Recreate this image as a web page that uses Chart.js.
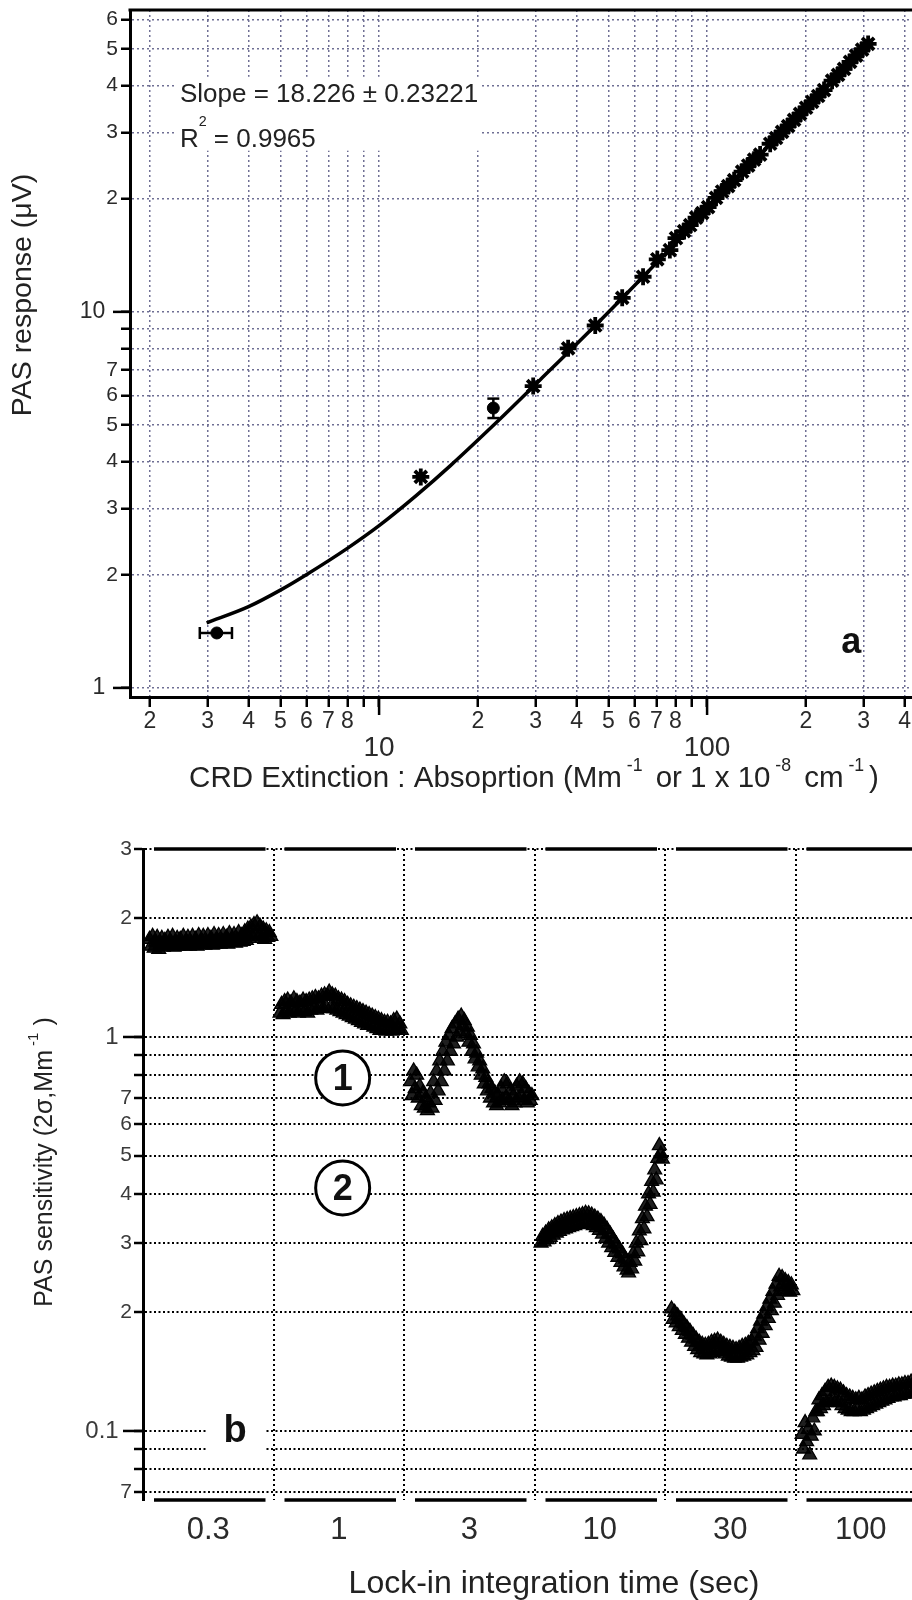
<!DOCTYPE html>
<html>
<head>
<meta charset="utf-8">
<script src="https://cdn.jsdelivr.net/npm/chart.js@4.4.1/dist/chart.umd.min.js"></script>
<style>
  html, body { margin: 0; padding: 0; background: #fff; overflow: hidden; }
  .panel { position: absolute; left: 0; }
  #panelA { top: 0; }
  #panelB { top: 790px; }
  canvas { display: block; }
</style>
</head>
<body>
<div class="panel" id="panelA"><canvas id="chartA" width="940" height="805"></canvas></div>
<div class="panel" id="panelB"><canvas id="chartB" width="940" height="810"></canvas></div>
<script>
const FONT = "'Liberation Sans', Arial, sans-serif";

// ---- (a) PAS response against CRD extinction ----
const extTicks = [2, 3, 4, 5, 6, 7, 8, 9, 10, 20, 30, 40, 50, 60, 70, 80, 90, 100, 200, 300, 400];
const extTickLabels = ['2', '3', '4', '5', '6', '7', '8', '', ['', '10'], '2', '3', '4', '5', '6', '7', '8', '', ['', '100'], '2', '3', '4'];
const respTicks = [1, 2, 3, 4, 5, 6, 7, 8, 9, 10, 20, 30, 40, 50, 60];
const respTickLabels = ['1  ', '2', '3', '4', '5', '6', '7', '', '', '10  ', '2', '3', '4', '5', '6'];

// calibration points
const calExt = [13.4, 29.5, 37.7, 45.6, 55.1, 63.8, 70.5, 77.0,
  80.4, 85.1, 88.8, 92.6, 96.6, 100.7, 106.5, 111.1, 115.9, 120.9,
  127.9, 133.4, 139.1, 145.1, 155.7, 162.3, 169.3, 176.6, 184.2, 192.1,
  200.4, 209.0, 218.0, 227.3, 240.5, 250.8, 261.6, 272.9, 284.6, 296.9, 309.7];
const calResp = [3.64, 6.35, 8.0, 9.2, 10.9, 12.4, 13.8, 14.6,
  15.7, 16.4, 17.0, 17.8, 18.3, 19.0, 20.1, 20.9, 21.6, 22.4,
  23.6, 24.5, 25.4, 26.2, 28.0, 29.0, 30.1, 31.2, 32.4, 33.6,
  34.9, 36.2, 37.5, 38.9, 41.2, 42.7, 44.3, 46.2, 48.0, 49.8, 51.6];

// points carrying error bars
const barExt = [3.2, 22.3];
const barResp = [1.40, 5.55];
const barExtErr = [0.36, 0];
const barRespErr = [0, 0.33];

// linear fit, curved on log axes
const fitExt = [2.98, 4.0, 5.0, 6.0, 8.0, 10, 13, 16.5, 22.9, 31, 45.6, 63.8, 100, 150, 200, 250, 318];
const fitResp = [1.49, 1.645, 1.82, 2.0, 2.35, 2.7, 3.25, 3.9, 5.1, 6.6, 9.2, 12.4, 18.6, 27.0, 34.9, 42.7, 52.9];
const fitStats = 'Slope = 18.226 \u00b1 0.23221';
const fitR2 = '0.9965';

// ---- (b) PAS sensitivity per lock-in integration time ----
const intTimes = ['0.3', '1', '3', '10', '30', '100'];
const sens03 = [1.77, 1.70, 1.80, 1.68, 1.74, 1.79, 1.67, 1.72, 1.78, 1.69, 1.76, 1.70, 1.79, 1.71, 1.74, 1.80, 1.69, 1.73, 1.78, 1.70,
  1.77, 1.71, 1.80, 1.70, 1.75, 1.79, 1.70, 1.73, 1.80, 1.71, 1.77, 1.70, 1.81, 1.72, 1.75, 1.80, 1.71, 1.74, 1.81, 1.72,
  1.78, 1.71, 1.82, 1.72, 1.76, 1.81, 1.72, 1.75, 1.82, 1.73, 1.79, 1.72, 1.83, 1.74, 1.77, 1.82, 1.73, 1.76, 1.84, 1.74,
  1.81, 1.75, 1.85, 1.76, 1.88, 1.78, 1.90, 1.80, 1.93, 1.82, 1.95, 1.80, 1.91, 1.78, 1.88, 1.77, 1.86, 1.79, 1.84, 1.80];
const sens1 = [1.15, 1.21, 1.14, 1.23, 1.16, 1.24, 1.15, 1.22, 1.17, 1.25, 1.16, 1.23, 1.15, 1.22, 1.17, 1.24, 1.16, 1.23, 1.15, 1.24,
  1.17, 1.25, 1.18, 1.26, 1.17, 1.25, 1.19, 1.27, 1.18, 1.28, 1.19, 1.27, 1.30, 1.19, 1.28, 1.18, 1.27, 1.17, 1.25, 1.16,
  1.24, 1.15, 1.23, 1.14, 1.21, 1.13, 1.20, 1.12, 1.19, 1.11, 1.18, 1.10, 1.17, 1.09, 1.16, 1.08, 1.15, 1.07, 1.14, 1.07,
  1.13, 1.06, 1.12, 1.05, 1.11, 1.04, 1.10, 1.04, 1.09, 1.035, 1.09, 1.04, 1.08, 1.035, 1.10, 1.04, 1.11, 1.05, 1.08, 1.04];
const sens3 = [0.77, 0.71, 0.82, 0.74, 0.80, 0.70, 0.75, 0.67, 0.72, 0.66, 0.70, 0.65, 0.68,
  0.72, 0.66, 0.77, 0.69, 0.82, 0.73, 0.87, 0.77, 0.92, 0.82, 0.97, 0.87, 1.01, 0.92, 1.05, 0.96, 1.08, 1.00, 1.11, 1.03, 1.13, 1.07,
  1.10, 1.02, 1.06, 0.97, 1.01, 0.92, 0.96, 0.88, 0.91, 0.84, 0.87, 0.80, 0.83, 0.76, 0.79, 0.73, 0.76, 0.70, 0.74, 0.68, 0.72, 0.67, 0.71,
  0.68, 0.74, 0.69, 0.77, 0.70, 0.76, 0.69, 0.73, 0.67, 0.71, 0.68, 0.75, 0.70, 0.77, 0.71, 0.76, 0.69, 0.74, 0.68, 0.72, 0.69, 0.71];
const sens10 = [0.300, 0.312, 0.302, 0.318, 0.306, 0.324, 0.310, 0.328, 0.314, 0.332, 0.318, 0.336, 0.321, 0.339, 0.324, 0.342, 0.326, 0.344, 0.328, 0.346,
  0.330, 0.348, 0.332, 0.350, 0.334, 0.352, 0.335, 0.354, 0.336, 0.357, 0.338, 0.356, 0.335, 0.353, 0.332, 0.349, 0.328, 0.345,
  0.323, 0.340, 0.316, 0.333, 0.308, 0.325, 0.300, 0.316, 0.292, 0.307, 0.284, 0.298, 0.276, 0.290, 0.268, 0.282, 0.261, 0.273, 0.256,
  0.252, 0.268, 0.258, 0.282, 0.270, 0.300, 0.285, 0.322, 0.304, 0.346, 0.326, 0.372, 0.350, 0.400, 0.376, 0.430, 0.404, 0.460, 0.434, 0.492, 0.530,
  0.505, 0.490];
const sens30 = [0.204, 0.192, 0.200, 0.188, 0.196, 0.184, 0.192, 0.180, 0.187, 0.176, 0.183, 0.172, 0.179, 0.168, 0.175, 0.164, 0.171, 0.161, 0.168, 0.158,
  0.166, 0.157, 0.165, 0.156, 0.166, 0.157, 0.168, 0.158, 0.169, 0.160, 0.170, 0.161, 0.168, 0.159, 0.166, 0.157, 0.164, 0.155, 0.163, 0.154,
  0.162, 0.153, 0.161, 0.153, 0.162, 0.154, 0.164, 0.155, 0.165, 0.156, 0.167, 0.158, 0.169, 0.160,
  0.174, 0.163, 0.182, 0.170, 0.190, 0.177, 0.198, 0.185, 0.207, 0.193, 0.216, 0.202, 0.226, 0.211, 0.236, 0.221, 0.247,
  0.232, 0.245, 0.228, 0.241, 0.226, 0.238, 0.225, 0.235, 0.227];
const sens100 = [0.098, 0.090, 0.105, 0.094, 0.101, 0.087, 0.097, 0.108, 0.100, 0.112,
  0.112, 0.120, 0.114, 0.123, 0.116, 0.126, 0.118, 0.129, 0.119, 0.130, 0.120, 0.129, 0.119, 0.128, 0.118, 0.127,
  0.116, 0.125, 0.114, 0.123, 0.113, 0.122, 0.112, 0.121, 0.112, 0.120, 0.113, 0.121, 0.112, 0.120, 0.113, 0.122, 0.114, 0.123, 0.115, 0.124,
  0.116, 0.125, 0.117, 0.126, 0.118, 0.127, 0.119, 0.128, 0.120, 0.129, 0.121, 0.129, 0.122, 0.130, 0.122, 0.130, 0.123, 0.131, 0.123, 0.131,
  0.124, 0.132, 0.124, 0.132, 0.125, 0.133, 0.125, 0.133, 0.126, 0.134, 0.126, 0.134, 0.127, 0.135];
const sensRuns = [sens03, sens1, sens3, sens10, sens30, sens100];
const sensTicks = [0.07, 0.08, 0.09, 0.1, 0.2, 0.3, 0.4, 0.5, 0.6, 0.7, 0.8, 0.9, 1, 2, 3];
const sensTickLabels = ['7', '', '', '0.1  ', '2', '3', '4', '5', '6', '7', '', '', '1  ', '2', '3'];

Chart.defaults.font.family = FONT;
Chart.defaults.color = '#2a2a2a';

const isDecade = v => Math.abs(Math.log10(v) - Math.round(Math.log10(v))) < 1e-9;
const noPad = s => { s.paddingTop = s.paddingBottom = s.paddingLeft = s.paddingRight = 0; };

// text with raised parts, e.g. units like Mm^-1
function drawRich(ctx, parts, x, y, size, opts = {}) {
  const supSize = size * (opts.supScale || 0.6);
  const rise = size * (opts.rise || 0.5);
  const setFont = sup => { ctx.font = `${sup ? supSize : size}px ${FONT}`; };
  const widths = parts.map(([t, sup]) => { setFont(sup); return ctx.measureText(t).width; });
  let cx = opts.center ? x - widths.reduce((a, b) => a + b, 0) / 2 : x;
  ctx.textAlign = 'left';
  ctx.textBaseline = 'alphabetic';
  parts.forEach(([t, sup], i) => {
    setFont(sup);
    ctx.fillText(t, cx, sup ? y - rise : y);
    cx += widths[i];
  });
}

// longer tick marks at powers of ten
const longTicks = {
  id: 'longTicks',
  afterDraw(chart, args, opts) {
    const ctx = chart.ctx;
    ctx.save();
    ctx.strokeStyle = '#000';
    ctx.lineWidth = 2.5;
    Object.entries(opts.lengths || {}).forEach(([id, len]) => {
      const s = chart.scales[id];
      s.ticks.forEach(t => {
        if (!isDecade(t.value)) return;
        const p = s.getPixelForValue(t.value);
        ctx.beginPath();
        if (s.isHorizontal()) { ctx.moveTo(p, s.top); ctx.lineTo(p, s.top + len); }
        else { ctx.moveTo(s.right, p); ctx.lineTo(s.right - len, p); }
        ctx.stroke();
      });
    });
    ctx.restore();
  }
};

const errorBars = {
  id: 'errorBars',
  afterDatasetsDraw(chart) {
    const { ctx, scales: { x, y } } = chart;
    const seg = (x1, y1, x2, y2) => { ctx.beginPath(); ctx.moveTo(x1, y1); ctx.lineTo(x2, y2); ctx.stroke(); };
    ctx.save();
    ctx.strokeStyle = '#000';
    ctx.lineWidth = 2.5;
    chart.data.datasets.forEach(ds => ds.data.forEach(p => {
      const px = x.getPixelForValue(p.x), py = y.getPixelForValue(p.y);
      if (p.xErr) {
        const l = x.getPixelForValue(p.x - p.xErr), r = x.getPixelForValue(p.x + p.xErr);
        seg(l, py, r, py); seg(l, py - 6, l, py + 6); seg(r, py - 6, r, py + 6);
      }
      if (p.yErr) {
        const t = y.getPixelForValue(p.y + p.yErr), b = y.getPixelForValue(p.y - p.yErr);
        seg(px, t, px, b); seg(px - 6, t, px + 6, t); seg(px - 6, b, px + 6, b);
      }
    }));
    ctx.restore();
  }
};

const decorA = {
  id: 'decorA',
  afterDraw(chart) {
    const { ctx, chartArea: a, scales: { x, y } } = chart;
    ctx.save();
    // top frame line
    ctx.strokeStyle = '#000';
    ctx.lineWidth = 3;
    ctx.beginPath(); ctx.moveTo(a.left - 1.5, a.top); ctx.lineTo(a.right, a.top); ctx.stroke();

    // fit statistics on a white box
    const tx = x.getPixelForValue(2.47);
    const b1 = y.getPixelForValue(36.2), b2 = y.getPixelForValue(27.5);
    ctx.font = `26px ${FONT}`;
    const w = ctx.measureText(fitStats).width;
    ctx.fillStyle = '#fff';
    ctx.fillRect(tx - 5, b1 - 25, w + 8, b2 - b1 + 29);
    ctx.fillStyle = '#222';
    drawRich(ctx, [[fitStats]], tx, b1, 26);
    drawRich(ctx, [['R'], ['2', true], [' = ' + fitR2]], tx, b2, 26, { supScale: 0.55, rise: 0.8 });

    // panel letter
    ctx.font = `bold 36px ${FONT}`;
    ctx.textAlign = 'center';
    ctx.textBaseline = 'alphabetic';
    ctx.fillStyle = '#111';
    ctx.fillText('a', x.getPixelForValue(275), y.getPixelForValue(1.24));

    // axis titles
    ctx.fillStyle = '#222';
    drawRich(ctx, [['CRD Extinction : Absoprtion (Mm'], [' -1 ', true], [' or 1 x 10'], [' -8 ', true], [' cm'], [' -1 ', true], [')']],
      a.left + 404, a.bottom + 90, 29.5, { center: true, rise: 0.55 });
    ctx.translate(a.left - 99, a.top + 285);
    ctx.rotate(-Math.PI / 2);
    drawRich(ctx, [['PAS response (\u03bcV)']], 0, 0, 28.5, { center: true });
    ctx.restore();
  }
};

const gridA = '#6f6f94';
new Chart(document.getElementById('chartA'), {
  type: 'scatter',
  data: {
    datasets: [
      {
        data: calExt.map((v, i) => ({ x: v, y: calResp[i] })),
        pointStyle: 'star', pointRadius: 8.5, borderWidth: 3.8,
        borderColor: '#000', backgroundColor: '#000', order: 1
      },
      {
        data: barExt.map((v, i) => ({ x: v, y: barResp[i], xErr: barExtErr[i], yErr: barRespErr[i] })),
        pointStyle: 'circle', pointRadius: 6, borderWidth: 1,
        borderColor: '#000', backgroundColor: '#000', order: 1
      },
      {
        data: fitExt.map((v, i) => ({ x: v, y: fitResp[i] })),
        showLine: true, pointRadius: 0, borderWidth: 3.5, borderColor: '#000',
        cubicInterpolationMode: 'monotone', order: 2
      }
    ]
  },
  options: {
    responsive: false,
    animation: false,
    devicePixelRatio: 1,
    layout: { autoPadding: false, padding: { top: 10, left: 0, right: 0, bottom: 0 } },
    plugins: {
      legend: { display: false },
      tooltip: { enabled: false },
      longTicks: { lengths: { x: 18, y: 17 } }
    },
    scales: {
      x: {
        type: 'logarithmic', min: 1.74, max: 513,
        afterBuildTicks: s => { s.ticks = extTicks.map(v => ({ value: v })); },
        afterFit: s => { s.height = 108; noPad(s); },
        ticks: {
          autoSkip: false, minRotation: 0, maxRotation: 0, padding: 1,
          callback: (v, i) => extTickLabels[i],
          font: c => isDecade(c.tick.value) ? { size: 28, lineHeight: 0.95 } : { size: 23, lineHeight: 1.2 }
        },
        grid: { color: gridA, lineWidth: 1.5, tickLength: 10, tickColor: '#000', tickWidth: 2.5 },
        border: { color: '#000', width: 3, dash: [2, 3] }
      },
      y: {
        type: 'logarithmic', min: 0.946, max: 63.5,
        afterBuildTicks: s => { s.ticks = respTicks.map(v => ({ value: v })); },
        afterFit: s => { s.width = 130; noPad(s); },
        ticks: {
          autoSkip: false, padding: 3,
          callback: (v, i) => respTickLabels[i],
          font: c => isDecade(c.tick.value) ? { size: 23 } : { size: 21 }
        },
        grid: { color: gridA, lineWidth: 1.5, tickLength: 9, tickColor: '#000', tickWidth: 2.5 },
        border: { color: '#000', width: 3, dash: [2, 3] }
      }
    }
  },
  plugins: [longTicks, errorBars, decorA]
});

const decorB = {
  id: 'decorB',
  afterDraw(chart) {
    const { ctx, chartArea: a, scales: { xv, y } } = chart;
    ctx.save();
    // split frame lines, one piece per integration time
    ctx.strokeStyle = '#000';
    ctx.lineWidth = 3.5;
    intTimes.forEach((_, i) => {
      const x1 = xv.getPixelForValue(i) + 11, x2 = xv.getPixelForValue(i + 1) - 8;
      [a.top, a.bottom].forEach(yy => {
        ctx.beginPath(); ctx.moveTo(x1, yy); ctx.lineTo(x2, yy); ctx.stroke();
      });
    });

    // panel letter
    const bx = xv.getPixelForValue(0.705), by = y.getPixelForValue(0.1);
    ctx.fillStyle = '#fff';
    ctx.fillRect(bx - 29, by - 22, 58, 46);
    ctx.fillStyle = '#111';
    ctx.font = `bold 38px ${FONT}`;
    ctx.textAlign = 'center';
    ctx.textBaseline = 'middle';
    ctx.fillText('b', bx, by + 1);

    // circled markers
    [['1', 0.787], ['2', 0.414]].forEach(([n, v]) => {
      const cx = xv.getPixelForValue(1.53), cy = y.getPixelForValue(v);
      ctx.beginPath();
      ctx.arc(cx, cy, 27, 0, Math.PI * 2);
      ctx.fillStyle = '#fff';
      ctx.fill();
      ctx.lineWidth = 3;
      ctx.stroke();
      ctx.fillStyle = '#111';
      ctx.font = `bold 36px ${FONT}`;
      ctx.fillText(n, cx, cy + 2);
    });

    // axis titles
    ctx.fillStyle = '#222';
    drawRich(ctx, [['Lock-in integration time (sec)']], a.left + 411, a.bottom + 93, 32, { center: true });
    ctx.translate(a.left - 91, a.top + 313);
    ctx.rotate(-Math.PI / 2);
    drawRich(ctx, [['PAS sensitivity (2\u03c3,Mm'], [' -1', true], [' )']], 0, 0, 25, { center: true, rise: 0.55 });
    ctx.restore();
  }
};

new Chart(document.getElementById('chartB'), {
  type: 'scatter',
  data: {
    datasets: sensRuns.map((run, i) => ({
      data: run.map((v, k) => ({ x: i + 0.05 + k * 0.93 / (run.length - 1), y: v })),
      xAxisID: 'xv', yAxisID: 'y',
      pointStyle: 'triangle', pointRadius: 8, borderWidth: 1.3,
      borderColor: '#000', backgroundColor: 'rgba(0,0,0,0.88)'
    }))
  },
  options: {
    responsive: false,
    animation: false,
    devicePixelRatio: 1,
    layout: { autoPadding: false, padding: { top: 59, left: 0, right: 14, bottom: 0 } },
    plugins: {
      legend: { display: false },
      tooltip: { enabled: false },
      longTicks: { lengths: { y: 20 } }
    },
    scales: {
      x: {
        type: 'category', labels: intTimes, offset: true, position: 'bottom',
        afterFit: s => { s.height = 100; noPad(s); },
        ticks: { padding: 12, maxRotation: 0, font: { size: 31 } },
        grid: { offset: true, drawTicks: false, color: '#000', lineWidth: 2 },
        border: { display: false, dash: [2, 3] }
      },
      xv: { type: 'linear', min: 0, max: 6, display: false },
      y: {
        type: 'logarithmic', min: 0.0668, max: 3,
        afterBuildTicks: s => { s.ticks = sensTicks.map(v => ({ value: v })); },
        afterFit: s => { s.width = 143; noPad(s); },
        ticks: {
          autoSkip: false, padding: 2, color: '#3a3a3a',
          callback: (v, i) => sensTickLabels[i],
          font: c => isDecade(c.tick.value) ? { size: 24 } : { size: 21 }
        },
        grid: { color: '#000', lineWidth: 2, tickLength: 9, tickColor: '#000', tickWidth: 2.5 },
        border: { color: '#000', width: 3, dash: [2, 2.5] }
      }
    }
  },
  plugins: [longTicks, decorB]
});
</script>
</body>
</html>
